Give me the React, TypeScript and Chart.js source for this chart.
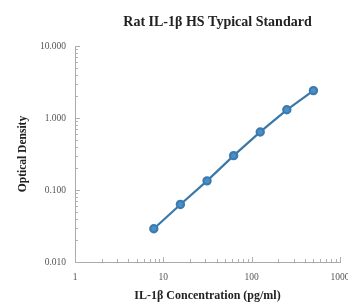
import React, { useEffect, useRef } from "react";
import { Chart, registerables } from "chart.js";

Chart.register(...registerables);

const concentrations = [7.8, 15.6, 31.25, 62.5, 125, 250, 500];
const opticalDensity = [0.029, 0.063, 0.134, 0.3, 0.64, 1.3, 2.4];
const xTickValues = [1, 2, 3, 4, 5, 6, 7, 8, 9, 10, 20, 30, 40, 50, 60, 70, 80, 90, 100, 200, 300, 400, 500, 600, 700, 800, 900, 1000];
const yTickValues = [0.01, 0.02, 0.03, 0.04, 0.05, 0.06, 0.07, 0.08, 0.09, 0.1, 0.2, 0.3, 0.4, 0.5, 0.6, 0.7, 0.8, 0.9, 1, 2, 3, 4, 5, 6, 7, 8, 9, 10];
const xMajor = [1, 10, 100, 1000];
const yMajor = [0.01, 0.1, 1, 10];

const titleText = "Rat IL-1β HS Typical Standard";
const xTitle = "IL-1β Concentration (pg/ml)";
const yTitle = "Optical Density";

const isMajor = (v: number, list: number[]) => list.some((m) => Math.abs(m - v) / m < 1e-6);

const FONT = "'Liberation Serif', 'Times New Roman', serif";

const decorPlugin = {
  id: "decor",
  afterDraw(chart: any) {
    const ctx = chart.ctx;
    const area = chart.chartArea;
    ctx.save();
    // inward tick marks
    ctx.strokeStyle = "#b0b0b0";
    ctx.lineWidth = 1;
    const xs = chart.scales.x;
    const ys = chart.scales.y;
    xTickValues.forEach((v) => {
      const px = Math.round(xs.getPixelForValue(v)) + 0.5;
      const len = isMajor(v, xMajor) ? 5 : 3;
      ctx.beginPath();
      ctx.moveTo(px, area.bottom);
      ctx.lineTo(px, area.bottom - len);
      ctx.stroke();
    });
    yTickValues.forEach((v) => {
      const py = Math.round(ys.getPixelForValue(v)) + 0.5;
      const len = isMajor(v, yMajor) ? 5 : 3;
      ctx.beginPath();
      ctx.moveTo(area.left, py);
      ctx.lineTo(area.left + len, py);
      ctx.stroke();
    });
    // title
    ctx.font = `bold 14px ${FONT}`;
    ctx.fillStyle = "#222";
    ctx.textAlign = "center";
    ctx.textBaseline = "middle";
    ctx.fillText(titleText, (area.left + area.right) / 2 + 10, 22);
    ctx.restore();
  },
};

export default function App() {
  const ref = useRef<HTMLCanvasElement | null>(null);
  useEffect(() => {
    if (!ref.current) return;
    const chart = new Chart(ref.current, {
      type: "scatter",
      data: {
        datasets: [
          {
            data: concentrations.map((x, i) => ({ x, y: opticalDensity[i] })),
            showLine: true,
            borderColor: "#3a78a8",
            borderWidth: 2.2,
            backgroundColor: "#4a8fc6",
            pointBorderColor: "#3b7bb0",
            pointRadius: 3.6,
            pointHoverRadius: 3.6,
          },
        ],
      },
      options: {
        animation: false,
        responsive: false,
        events: [],
        layout: { padding: { left: 16, right: 8, top: 46, bottom: 0 } },
        plugins: {
          legend: { display: false },
          tooltip: { enabled: false },
          title: { display: false },
        },
        scales: {
          x: {
            type: "logarithmic",
            min: 1,
            max: 1000,
            afterBuildTicks: (s: any) => {
              s.ticks = xTickValues.map((v) => ({ value: v }));
            },
            afterFit: (s: any) => {
              s.height = 41;
              s.paddingRight = 0;
            },
            ticks: {
              autoSkip: false,
              maxRotation: 0,
              padding: 10,
              color: "#555",
              font: { family: FONT, size: 9.5 },
              callback: (v: any) => (isMajor(Number(v), xMajor) ? String(Number(v)) : ""),
            },
            grid: { drawOnChartArea: false, drawTicks: false, tickLength: 0 },
            border: { color: "#aaa" },
            title: {
              display: true,
              text: xTitle,
              color: "#222",
              font: { family: FONT, size: 12, weight: "bold" },
              padding: 0,
            },
          },
          y: {
            type: "logarithmic",
            min: 0.01,
            max: 10,
            afterBuildTicks: (s: any) => {
              s.ticks = yTickValues.map((v) => ({ value: v }));
            },
            afterFit: (s: any) => {
              s.width = 59;
            },
            ticks: {
              autoSkip: false,
              padding: 9,
              color: "#555",
              font: { family: FONT, size: 9.5 },
              callback: (v: any) => (isMajor(Number(v), yMajor) ? Number(v).toFixed(3) : ""),
            },
            grid: { drawOnChartArea: false, drawTicks: false, tickLength: 0 },
            border: { color: "#aaa" },
            title: {
              display: true,
              text: yTitle,
              color: "#222",
              font: { family: FONT, size: 11.5, weight: "bold" },
              padding: 0,
            },
          },
        },
      } as any,
      plugins: [decorPlugin],
    });
    return () => chart.destroy();
  }, []);
  return (
    <div style={{ position: "absolute", left: 0, top: 0, width: 348, height: 303, background: "#fff" }}>
      <canvas ref={ref} width={348} height={303} style={{ width: 348, height: 303 }} />
    </div>
  );
}
